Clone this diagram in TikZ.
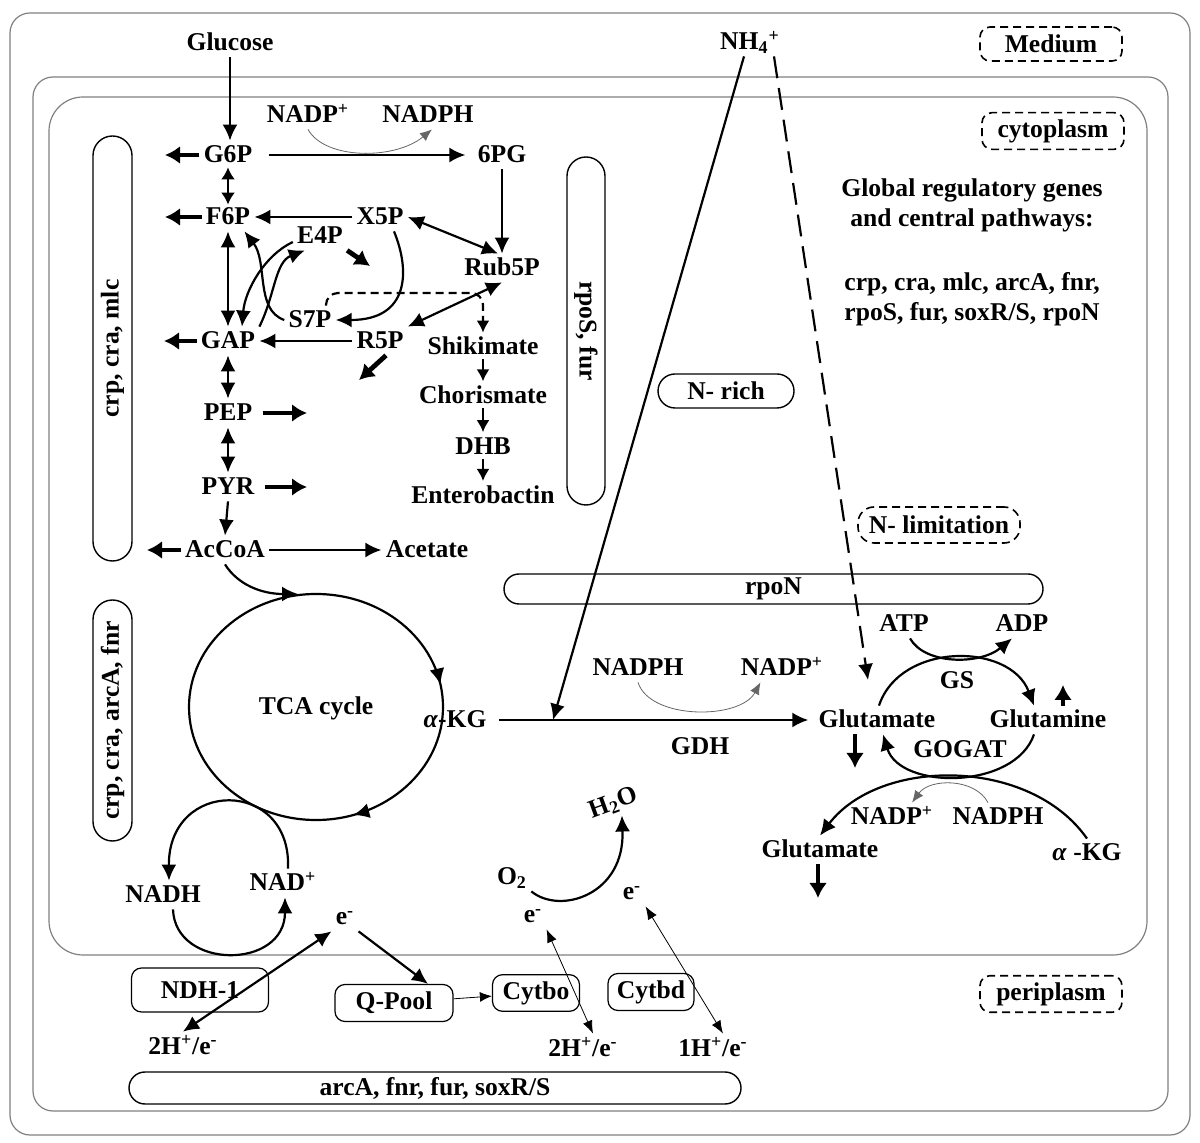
\documentclass[tikz,border=0pt]{standalone}
\usepackage{fontspec}
\setmainfont{Liberation Serif}
\usepackage{tikz}
\usetikzlibrary{arrows.meta,shapes.misc,decorations.markings,positioning}

\begin{document}
\begin{tikzpicture}[x=0.5pt,y=-0.5pt,
  txt/.style={font=\fontsize{12.8}{15}\selectfont\bfseries},
  met/.style={txt, inner sep=2pt, text height=9pt, text depth=1pt},
  flux/.style={line width=1.1pt, -{Latex[length=8pt,width=7.5pt]}},
  revflux/.style={line width=1.1pt, {Latex[length=8pt,width=7.5pt]}-{Latex[length=8pt,width=7.5pt]}},
  shortrev/.style={line width=1.1pt, {Latex[length=6pt,width=7pt]}-{Latex[length=6pt,width=7pt]}},
  shortflux/.style={line width=1.1pt, -{Latex[length=6pt,width=6.5pt]}},
  stub/.style={line width=2.4pt, -{Latex[length=7.5pt,width=9pt]}},
  cofac/.style={line width=0.4pt, draw=black!60, -{Latex[length=6pt,width=5pt]}},
  eflow/.style={line width=0.4pt, {Latex[length=6.5pt,width=5pt]}-{Latex[length=6.5pt,width=5pt]}},
  membrane/.style={draw=black!50, line width=0.6pt},
  regbox/.style={txt, rounded rectangle, draw, line width=0.7pt, inner sep=1pt},
  zone/.style={txt, draw, rounded corners=5pt, line width=0.8pt, dash pattern=on 4pt off 2.5pt, minimum width=71pt, minimum height=17pt},
  cplx/.style={txt, draw, rounded corners=5pt, line width=0.6pt}]
\useasboundingbox (0,0) rectangle (1200,1143);

% compartments
\draw[membrane, rounded corners=10pt] (10,13) rectangle (1190,1135);
\draw[membrane, rounded corners=10pt] (33,77) rectangle (1168,1111);
\draw[membrane, rounded corners=17pt] (49,97) rectangle (1147,955);
\node[zone] (medium) at (1051,44) {Medium};
\node[zone] (cyto) at (1053,131) {cytoplasm};
\node[zone] (peri) at (1051,994) {periplasm};

% regulators
\node[regbox, rotate=90, minimum width=214.5pt, minimum height=19.5pt] (crpA) at (112.5,348.5) {crp, cra, mlc};
\node[regbox, rotate=90, minimum width=122.5pt, minimum height=19.5pt] (crpB) at (112.5,720.5) {crp, cra, arcA, fnr};
\node[regbox, rotate=-90, minimum width=176pt, minimum height=19pt] (rpoS) at (586,331) {rpoS, fur};
\node[regbox, minimum width=271.5pt, minimum height=15pt] (rpoN) at (773.5,589) {rpoN};
\node[regbox, minimum width=308pt, minimum height=16pt] (arcA) at (435,1088) {arcA, fnr, fur, soxR/S};
\node[regbox, minimum width=70pt, minimum height=17pt] (Nrich) at (726,391) {N- rich};
\node[zone, rounded corners=8pt, minimum width=81pt, minimum height=18pt] (Nlim) at (939,525) {N- limitation};
\node[txt, align=center] (global) at (972,205) {Global regulatory genes\\and central pathways:};
\node[txt, align=center] (genes) at (972,299) {crp, cra, mlc, arcA, fnr,\\rpoS, fur, soxR/S, rpoN};

% glycolysis, pentose phosphate, shikimate
\node[met] (Glucose) at (230,43) {Glucose};
\node[met] (G6P) at (228,155) {G6P};
\node[met] (F6P) at (228,217) {F6P};
\node[met] (GAP) at (228,341) {GAP};
\node[met] (PEP) at (228,413) {PEP};
\node[met] (PYR) at (228,487) {PYR};
\node[met] (AcCoA) at (225,550) {AcCoA};
\node[met] (Acetate) at (427,550) {Acetate};
\node[met] (PG6) at (502,155) {6PG};
\node[met] (X5P) at (380,217) {X5P};
\node[met] (E4P) at (320,236) {E4P};
\node[met] (Rub5P) at (502,268) {Rub5P};
\node[met] (S7P) at (310,320) {S7P};
\node[met] (R5P) at (380,341) {R5P};
\node[met] (Shik) at (483,347) {Shikimate};
\node[met, below=10pt of Shik] (Chor) {Chorismate};
\node[met, below=11pt of Chor] (DHB) {DHB};
\node[met, below=10pt of DHB] (Ent) {Enterobactin};
\node[met] (NADPa) at (308,115) {NADP\textsuperscript{+}};
\node[met] (NADPHa) at (428,115) {NADPH};

\coordinate (G6Pout) at (165,155);
\coordinate (F6Pout) at (165,217);
\coordinate (GAPout) at (164,341);
\coordinate (PEPout) at (307,413);
\coordinate (PYRout) at (307,487);
\coordinate (AcCoAout) at (147,550);
\coordinate (E4Pout) at (370,266);
\coordinate (R5Pout) at (359,380);
\coordinate (dashTop) at (400,293);

\draw[flux] (Glucose.south) -- (Glucose.south |- G6P.north);
\draw[flux, shorten <=6pt, shorten >=4pt] (G6P.east) -- (PG6.west);
\draw[cofac] (NADPa.south) .. controls (325,160) and (395,160) .. ([xshift=2pt]NADPHa.south);
\draw[shortrev] ([yshift=1pt]G6P.south) -- ([yshift=-1pt]F6P.north);
\draw[revflux] (F6P.south) -- (GAP.north);
\draw[revflux] (GAP.south) -- (PEP.north);
\draw[revflux] (PEP.south) -- (PYR.north);
\draw[flux] (PYR.south) -- (AcCoA.north);
\draw[flux] (AcCoA.east) -- (Acetate.west);
\draw[flux] (X5P.west) -- (F6P.east);
\draw[flux] (R5P.west) -- (GAP.east);
\draw[flux] (PG6.south) -- (Rub5P.north);
\draw[revflux] (X5P.east) -- ([xshift=-2pt]Rub5P.north);
\draw[revflux] (Rub5P.south) -- (R5P.north east);
\draw[flux] ([xshift=7pt]X5P.south) .. controls (410,270) and (410,320) .. (S7P.east);
\draw[flux] (S7P.west) .. controls (255,310) and (268,262) .. ([xshift=-5pt]F6P.south east);
\draw[flux] (GAP.north east) .. controls (275,295) and (275,262) .. ([xshift=6pt]E4P.south west);
\draw[flux] ([yshift=-3pt]E4P.west) .. controls (265,255) and (245,290) .. ([xshift=7pt]GAP.north);
\draw[shortflux, dash pattern=on 4pt off 2.5pt, rounded corners=6pt] ([xshift=8pt]S7P.north) |- (dashTop) -| (Shik.north);
\draw[shortflux] ([yshift=1pt]Shik.south) -- (Chor.north);
\draw[shortflux] ([yshift=1pt]Chor.south) -- (DHB.north);
\draw[shortflux] ([yshift=1pt]DHB.south) -- (Ent.north);
\draw[stub] (G6P.west) -- (G6Pout);
\draw[stub] (F6P.west) -- (F6Pout);
\draw[stub] (GAP.west) -- (GAPout);
\draw[stub, shorten <=3pt] (PEP.east) -- (PEPout);
\draw[stub, shorten <=3pt] (PYR.east) -- (PYRout);
\draw[stub] (AcCoA.west) -- (AcCoAout);
\draw[stub] (E4P.south east) -- (E4Pout);
\draw[stub] ([xshift=3pt]R5P.south) -- (R5Pout);

% TCA cycle and NADH
\node[met] (TCA) at (316,707) {TCA cycle};
\draw[line width=1.1pt, postaction={decorate}, decoration={markings,
  mark=at position 0.2 with {\arrow{Latex[length=8pt,width=7.5pt]}},
  mark=at position 0.97 with {\arrow{Latex[length=8pt,width=7.5pt]}}}]
  (TCA) ellipse [x radius=127, y radius=113];
\coordinate (TCAin) at (298,594);
\draw[flux] (AcCoA.south) .. controls (238,585) and (262,594) .. (TCAin);
\node[met] (NADH) at (163,895) {NADH};
\node[met] (NAD) at (283,883) {NAD\textsuperscript{+}};
\draw[flux] ([xshift=2.5pt]NAD.north) .. controls (292,778) and (168,778) .. ([xshift=3pt]NADH.north);
\draw[flux] ([xshift=5pt]NADH.south) .. controls (175,970) and (285,970) .. ([xshift=1pt]NAD.south);

% respiratory chain
\node[met] (eC) at (345,917) {e\textsuperscript{-}};
\node[cplx, minimum width=68.5pt, minimum height=22pt] (NDH) at (200,990) {NDH-1};
\node[cplx, minimum width=59pt, minimum height=18.5pt] (QPool) at (394,1003) {Q-Pool};
\node[cplx, minimum width=43.5pt, minimum height=18pt] (Cytbo) at (536,993) {Cytbo};
\node[cplx, minimum width=43pt, minimum height=18.5pt] (Cytbd) at (651,992) {Cytbd};
\node[met] (HA) at (183,1046) {2H\textsuperscript{+}/e\textsuperscript{-}};
\node[met] (HB) at (583,1048) {2H\textsuperscript{+}/e\textsuperscript{-}};
\node[met] (HC) at (713,1048) {1H\textsuperscript{+}/e\textsuperscript{-}};
\node[met] (O2) at (512,877) {O\textsubscript{2}};
\node[met, rotate=20] (H2O) at (613,802) {H\textsubscript{2}O};
\node[met] (eA) at (533,915) {e\textsuperscript{-}};
\node[met] (eB) at (632,892) {e\textsuperscript{-}};
\draw[revflux] (eC.south west) -- (HA.north);
\draw[flux] (eC.south east) -- ([xshift=17pt]QPool.north);
\draw[cofac, draw=black] (QPool) -- (Cytbo);
\draw[eflow] (eA.south east) -- ([xshift=5pt]HB.north);
\draw[eflow] (eB.south east) -- ([xshift=5pt]HC.north);
\draw[flux] (O2.south east) .. controls (560,915) and (625,895) .. ([xshift=2pt]H2O.south);

% nitrogen assimilation
\node[met] (NH4) at (750,42) {NH\textsubscript{4}\textsuperscript{+}};
\node[met] (aKG) at (455,720) {\textit{α}-KG};
\node[met] (GluA) at (877,720) {Glutamate};
\node[met] (Gln) at (1048,720) {Glutamine};
\node[met] (NADPHb) at (638,668) {NADPH};
\node[met] (NADPb) at (782,668) {NADP\textsuperscript{+}};
\node[met] (GDH) at (700,747) {GDH};
\node[met] (ATP) at (904,624) {ATP};
\node[met] (ADP) at (1022,624) {ADP};
\node[met] (GS) at (957,681) {GS};
\node[met] (GOGAT) at (960,750) {GOGAT};
\node[met] (NADPc) at (892,817) {NADP\textsuperscript{+}};
\node[met] (NADPHc) at (998,817) {NADPH};
\node[met] (GluB) at (820,850) {Glutamate};
\node[met] (aKGb) at (1087,853) {\textit{α} -KG};
\coordinate (gdhIn) at (553,720);
\coordinate (glnIn) at (868,680);
\coordinate (GluAout) at (855,768);
\coordinate (Glnout) at (1063,685);
\coordinate (GluBout) at (818,898);

\draw[flux] ([xshift=-3pt]NH4.south) -- (gdhIn);
\draw[flux, dash pattern=on 11pt off 5pt] ([xshift=12pt]NH4.south) -- (glnIn);
\draw[flux, shorten <=4pt, shorten >=3pt] (aKG.east) -- (GluA.west);
\draw[cofac] (NADPHb.south) .. controls (650,720) and (740,720) .. ([xshift=12pt]NADPb.south west);
\draw[flux] ([xshift=1pt]GluA.north) .. controls (900,642) and (1010,642) .. ([xshift=-7pt]Gln.north);
\draw[flux] ([xshift=3pt]ATP.south) .. controls (925,665) and (980,665) .. ([xshift=-5pt]ADP.south);
\draw[flux] ([xshift=-7pt]Gln.south) .. controls (1015,790) and (900,790) .. ([xshift=3pt]GluA.south);
\draw[flux] (aKGb.north) .. controls (1030,757) and (880,757) .. (GluB.north);
\draw[cofac] ([xshift=-5pt]NADPHc.north) .. controls (975,778) and (930,778) .. ([xshift=10pt]NADPc.north);
\draw[stub] ([xshift=-11pt]GluA.south) -- (GluAout);
\draw[stub] ([xshift=7.5pt]Gln.north) -- (Glnout);
\draw[stub] ([xshift=-1pt]GluB.south) -- (GluBout);
\end{tikzpicture}
\end{document}
